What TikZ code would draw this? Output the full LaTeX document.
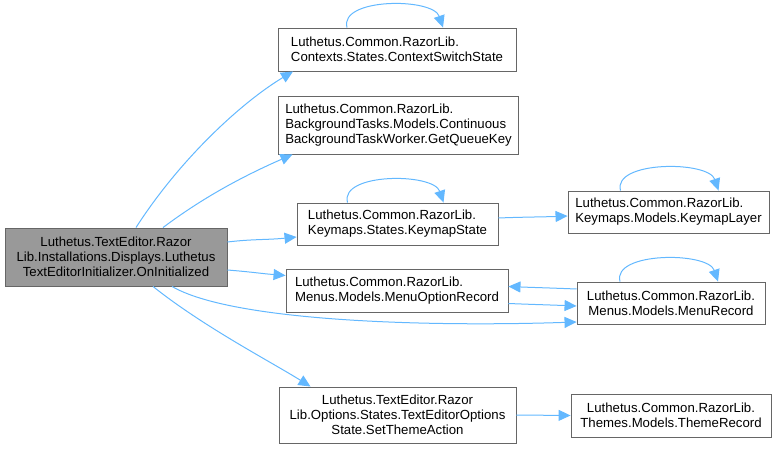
\documentclass[tikz,border=0pt]{standalone}
\usepackage{fontspec}
\setmainfont{Liberation Sans}
\usetikzlibrary{arrows.meta}
\definecolor{edgeblue}{RGB}{99,184,255}
\definecolor{boxgray}{RGB}{102,102,102}
\definecolor{mainfill}{RGB}{153,153,153}
\tikzset{
  box/.style={draw=boxgray, line width=0.9bp, fill=white, inner sep=0pt, align=left,
    font=\fontsize{13.2bp}{15bp}\selectfont},
  mainbox/.style={box, fill=mainfill, align=center},
  cbox/.style={box, align=center},
  edge/.style={draw=edgeblue, line width=1bp, -{Triangle[length=12bp,width=11bp]}},
}
\begin{document}
\begin{tikzpicture}[x=1bp,y=-1bp]
\useasboundingbox (0,0) rectangle (780,451);
\node[mainbox, minimum width=222bp, minimum height=58bp] (main) at (116,257)
  {Luthetus.TextEditor.Razor\\Lib.Installations.Displays.Luthetus\\TextEditorInitializer.OnInitialized};
\node[box, minimum width=238bp, minimum height=43bp] (ctx) at (397,49.5)
  {Luthetus.Common.RazorLib.\\Contexts.States.ContextSwitchState};
\node[box, minimum width=240bp, minimum height=58bp] (gqk) at (398.5,125)
  {Luthetus.Common.RazorLib.\\BackgroundTasks.Models.Continuous\\BackgroundTaskWorker.GetQueueKey};
\node[box, minimum width=201bp, minimum height=42bp] (kms) at (397.5,224)
  {Luthetus.Common.RazorLib.\\Keymaps.States.KeymapState};
\node[box, minimum width=222bp, minimum height=43bp] (mor) at (397,290.5)
  {Luthetus.Common.RazorLib.\\Menus.Models.MenuOptionRecord};
\node[cbox, minimum width=237bp, minimum height=56bp] (sta) at (397.5,415)
  {Luthetus.TextEditor.Razor\\Lib.Options.States.TextEditorOptions\\State.SetThemeAction};
\node[box, minimum width=201bp, minimum height=42bp] (kml) at (668.5,212)
  {Luthetus.Common.RazorLib.\\Keymaps.Models.KeymapLayer};
\node[cbox, minimum width=188bp, minimum height=42bp] (mr) at (671,303)
  {Luthetus.Common.RazorLib.\\Menus.Models.MenuRecord};
\node[cbox, minimum width=200bp, minimum height=43bp] (tr) at (671,415.5)
  {Luthetus.Common.RazorLib.\\Themes.Models.ThemeRecord};

% main edges
\draw[edge] ([xshift=20bp]main.north) .. controls +(45,-70) and +(-50,30) .. ([xshift=-104bp]ctx.south);
\draw[edge] ([xshift=47bp]main.north) .. controls +(40,-30) and +(-50,22) .. ([xshift=-106bp]gqk.south);
\draw[edge] ([yshift=15bp]main.east) .. controls +(25,-3) and +(-30,3) .. ([yshift=-13bp]kms.west);
\draw[edge] ([yshift=-13bp]main.east) .. controls +(25,2) and +(-25,-2) .. ([yshift=15bp]mor.west);
\draw[edge] ([xshift=56bp]main.south) .. controls +(60,35) and +(-150,5) .. ([yshift=-19bp]mr.west);
\draw[edge] ([xshift=37bp]main.south) .. controls +(50,40) and +(-40,-25) .. ([xshift=-87bp]sta.north);

% other edges
\draw[edge] ([yshift=6bp]kms.east) .. controls +(25,-1) and +(-25,1) .. ([yshift=-4bp]kml.west);
\draw[edge] ([yshift=-13bp]mor.east) .. controls +(25,1) and +(-25,-1) .. ([yshift=-3bp]mr.west);
\draw[edge] ([yshift=14bp]mr.west) .. controls +(-25,-1) and +(25,1) .. ([yshift=4bp]mor.east);
\draw[edge] (sta.east) -- (tr.west);

% self loops
\draw[edge] ([xshift=-50bp]ctx.north) .. controls +(-8,-30) and +(-10,-30) .. ([xshift=46bp]ctx.north);
\draw[edge] ([xshift=-50bp]kms.north) .. controls +(-8,-30) and +(-10,-30) .. ([xshift=46bp]kms.north);
\draw[edge] ([xshift=-48bp]kml.north) .. controls +(-8,-30) and +(-10,-30) .. ([xshift=50bp]kml.north);
\draw[edge] ([xshift=-51bp]mr.north) .. controls +(-8,-30) and +(-10,-30) .. ([xshift=47bp]mr.north);
\end{tikzpicture}
\end{document}
